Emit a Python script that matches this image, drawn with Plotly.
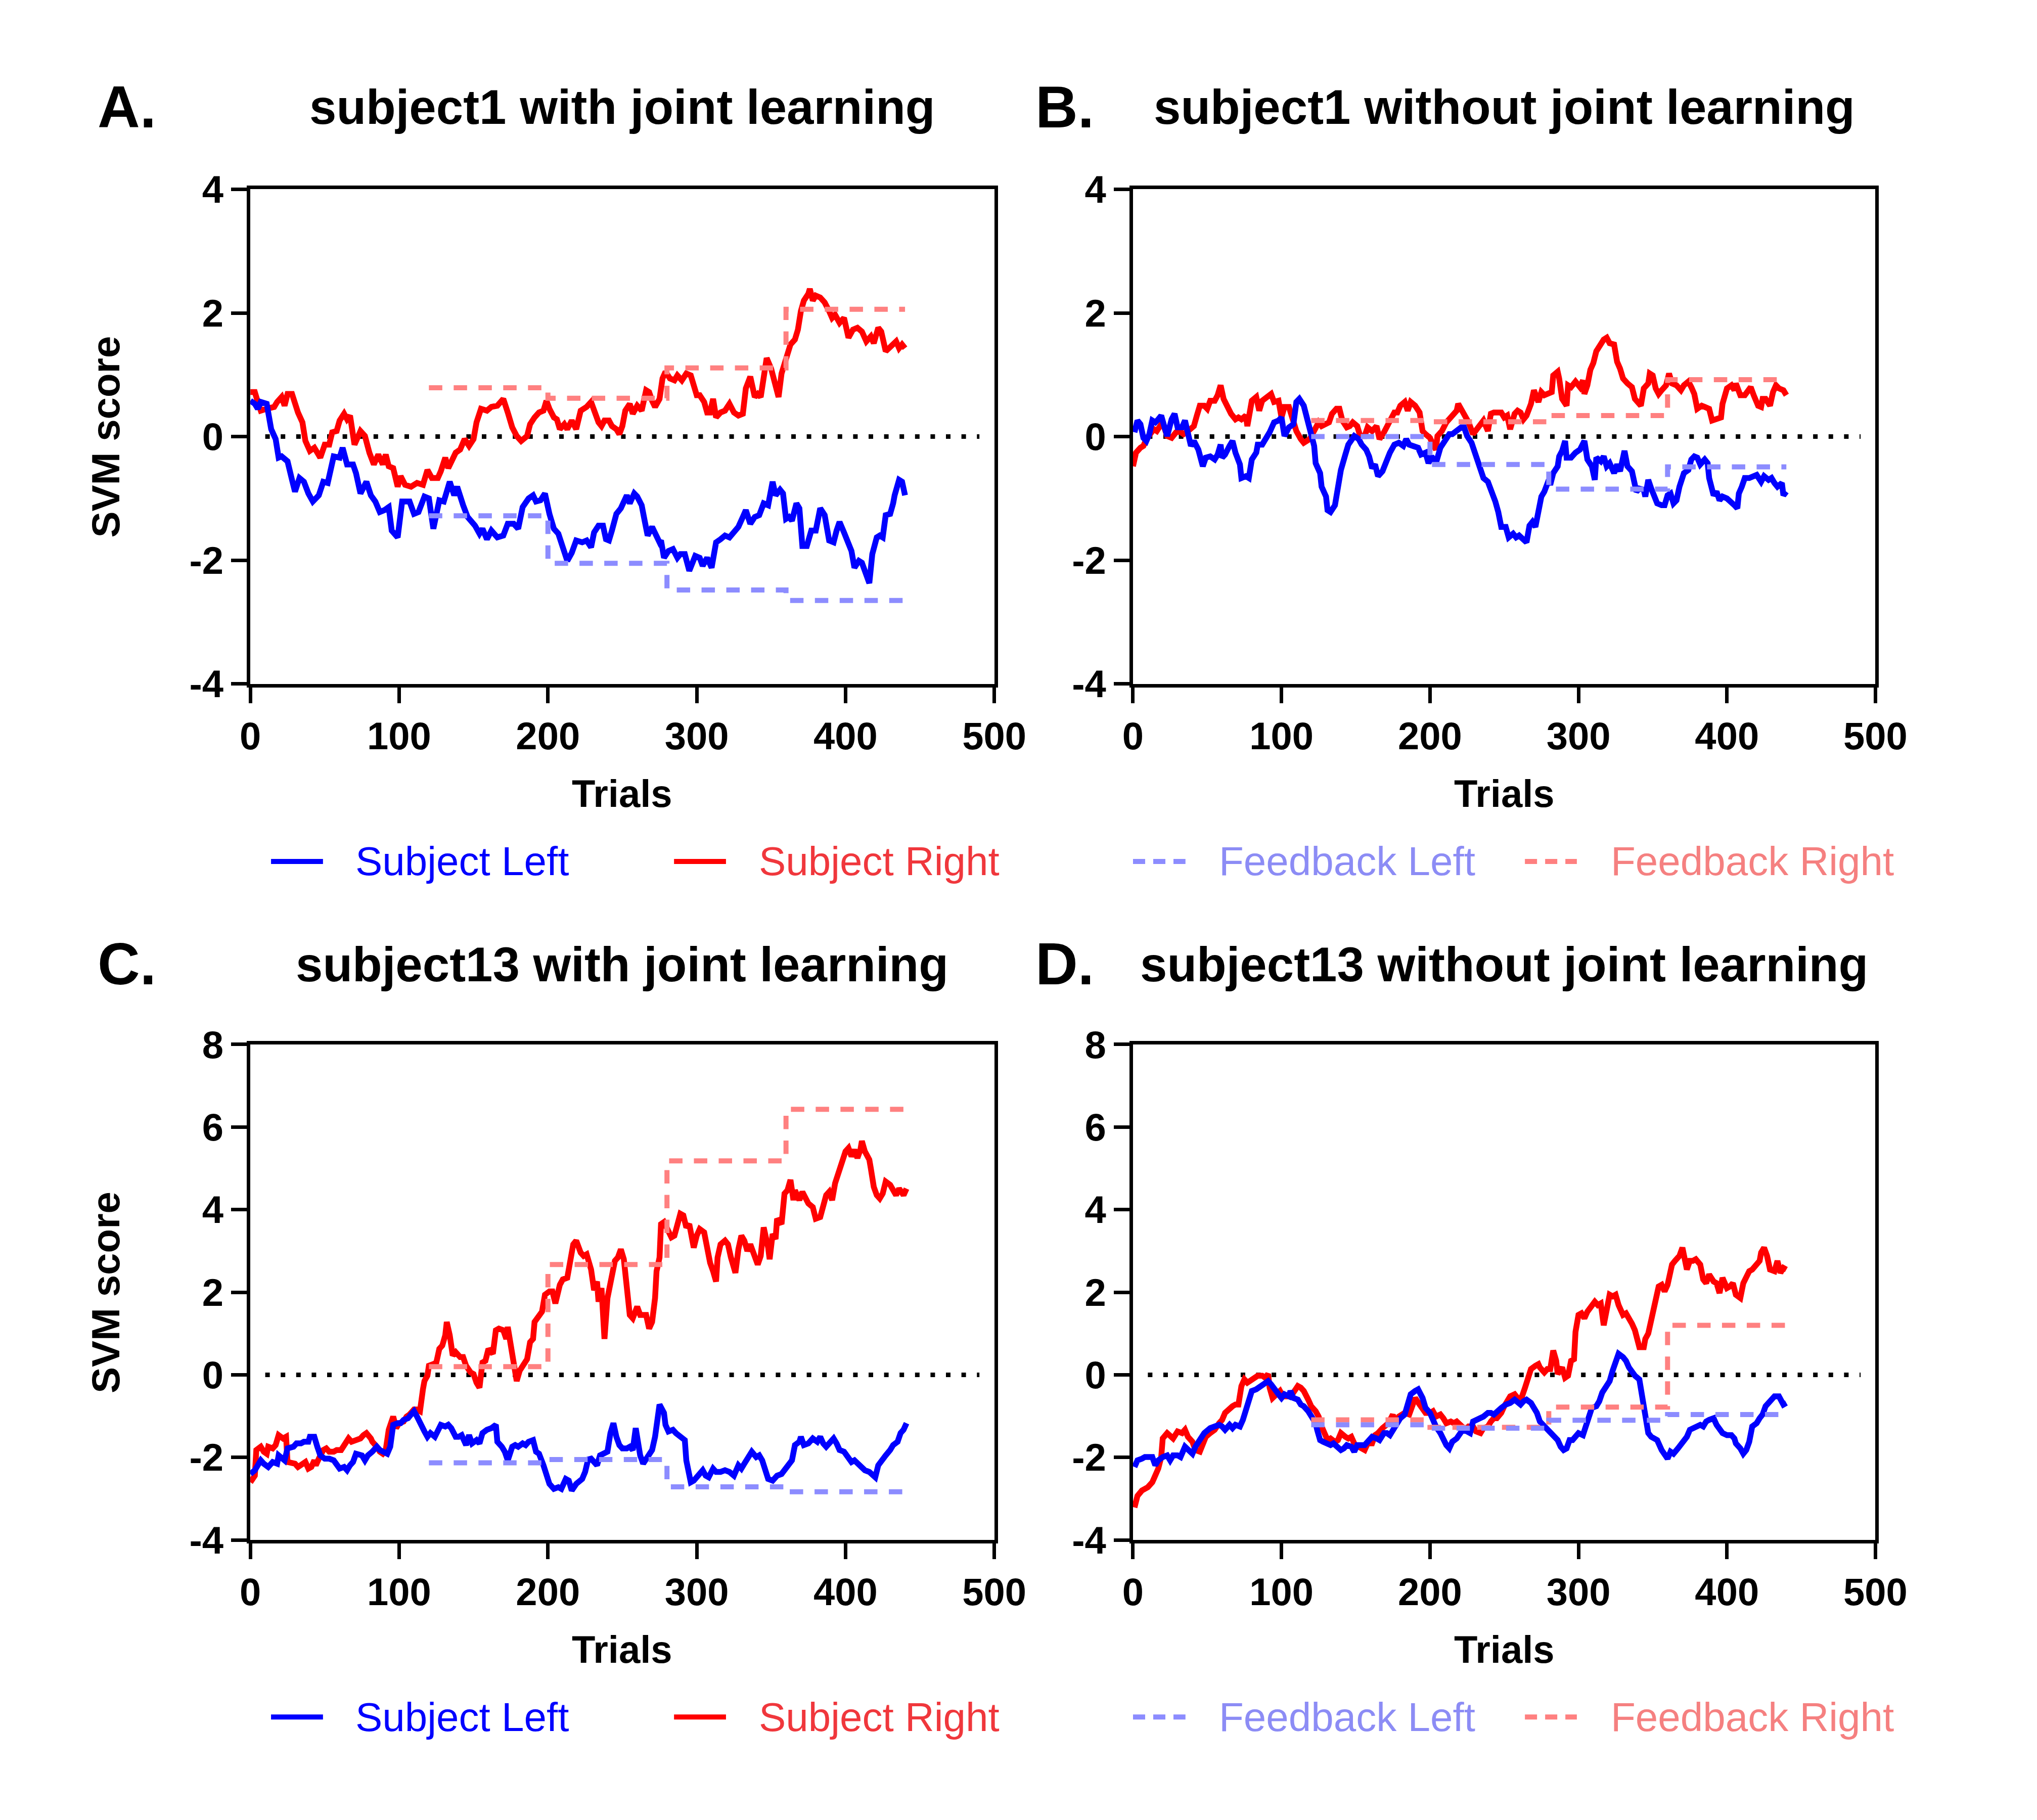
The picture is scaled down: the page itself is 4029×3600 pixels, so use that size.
import plotly.graph_objects as go

W, H = 4029, 3600
FONT = "Liberation Sans, Arial, sans-serif"

# ---------------- data (trial, SVM score) ----------------
A_SUBJ_LEFT = [(0, 0.58), (3, 0.53), (5, 0.45), (7, 0.56), (11, 0.53), (12, 0.39), (14, 0.12), (17, -0.04), (19, -0.34), (21, -0.32), (25, -0.40), (28, -0.70), (30, -0.89), (33, -0.67), (36, -0.73), (39, -0.92), (42, -1.05), (46, -0.95), (49, -0.73), (52, -0.75), (54, -0.51), (56, -0.32), (60, -0.34), (62, -0.18), (65, -0.45), (69, -0.45), (71, -0.59), (74, -0.92), (78, -0.73), (81, -0.95), (84, -1.05), (87, -1.22), (90, -1.19), (93, -1.14), (95, -1.52), (99, -1.63), (102, -1.05), (107, -1.05), (110, -1.25), (113, -1.22), (117, -0.97), (120, -1.00), (123, -1.49), (127, -1.03), (130, -1.05), (134, -0.73), (137, -0.95), (139, -0.81), (143, -1.11), (146, -1.30), (151, -1.44), (154, -1.57), (156, -1.49), (159, -1.66), (162, -1.52), (166, -1.63), (170, -1.60), (173, -1.41), (177, -1.41), (180, -1.49), (183, -1.14), (187, -1.00), (190, -0.95), (192, -1.05), (195, -1.03), (198, -0.92), (201, -1.25), (204, -1.49), (207, -1.57), (210, -1.77), (213, -2.01), (216, -1.88), (219, -1.68), (223, -1.71), (226, -1.68), (229, -1.79), (231, -1.55), (234, -1.44), (237, -1.44), (239, -1.66), (241, -1.68), (243, -1.52), (246, -1.25), (249, -1.16), (251, -1.03), (253, -0.95), (255, -1.08), (258, -0.92), (260, -0.97), (263, -1.11), (265, -1.36), (267, -1.60), (270, -1.46), (272, -1.57), (275, -1.71), (276, -1.68), (278, -1.96), (281, -1.85), (284, -1.82), (287, -1.96), (289, -1.90), (292, -1.90), (295, -2.17), (299, -1.93), (302, -1.96), (304, -2.09), (307, -1.96), (310, -2.12), (313, -1.71), (316, -1.66), (319, -1.60), (322, -1.63), (325, -1.55), (328, -1.46), (331, -1.30), (333, -1.19), (336, -1.41), (339, -1.30), (342, -1.27), (345, -1.08), (348, -1.11), (351, -0.73), (353, -0.95), (356, -0.86), (358, -0.92), (360, -1.33), (362, -1.30), (364, -1.36), (367, -1.08), (369, -1.16), (371, -1.77), (374, -1.77), (377, -1.52), (380, -1.52), (383, -1.16), (386, -1.27), (389, -1.68), (392, -1.71), (394, -1.52), (396, -1.38), (399, -1.55), (402, -1.71), (404, -1.85), (406, -2.12), (409, -2.01), (411, -2.04), (413, -2.17), (416, -2.37), (418, -1.90), (421, -1.63), (423, -1.60), (425, -1.63), (427, -1.27), (430, -1.25), (432, -1.08), (433, -0.95), (436, -0.70), (438, -0.73), (440, -0.95)]
A_SUBJ_RIGHT = [(0, 0.72), (3, 0.72), (5, 0.56), (7, 0.42), (11, 0.45), (14, 0.48), (16, 0.48), (18, 0.56), (21, 0.64), (23, 0.50), (25, 0.69), (28, 0.69), (30, 0.53), (32, 0.39), (35, 0.23), (37, -0.07), (40, -0.23), (43, -0.18), (47, -0.34), (50, -0.13), (53, -0.13), (55, 0.07), (58, 0.09), (60, 0.26), (63, 0.37), (65, 0.28), (67, 0.34), (70, -0.13), (74, 0.09), (77, 0.01), (80, -0.26), (83, -0.45), (86, -0.29), (89, -0.45), (91, -0.29), (93, -0.48), (96, -0.51), (99, -0.81), (101, -0.64), (104, -0.78), (108, -0.81), (112, -0.75), (116, -0.78), (119, -0.54), (122, -0.67), (126, -0.67), (128, -0.56), (131, -0.34), (133, -0.51), (135, -0.40), (138, -0.26), (141, -0.21), (144, -0.04), (147, -0.15), (150, -0.04), (152, 0.23), (155, 0.45), (159, 0.42), (162, 0.48), (166, 0.50), (170, 0.61), (173, 0.39), (176, 0.15), (179, 0.01), (182, -0.07), (186, 0.01), (188, 0.20), (191, 0.31), (194, 0.39), (197, 0.42), (199, 0.58), (201, 0.45), (204, 0.31), (206, 0.28), (208, 0.12), (211, 0.20), (213, 0.12), (216, 0.26), (219, 0.12), (222, 0.42), (226, 0.48), (229, 0.56), (232, 0.37), (234, 0.23), (236, 0.17), (238, 0.26), (241, 0.26), (243, 0.17), (246, 0.12), (248, 0.04), (250, 0.17), (252, 0.42), (255, 0.53), (257, 0.37), (260, 0.50), (263, 0.42), (266, 0.75), (268, 0.72), (270, 0.58), (272, 0.48), (275, 0.61), (277, 0.94), (279, 1.05), (282, 0.94), (285, 0.91), (287, 0.99), (290, 0.91), (293, 1.02), (296, 0.99), (298, 0.83), (300, 0.67), (302, 0.67), (305, 0.56), (307, 0.39), (309, 0.39), (311, 0.61), (313, 0.31), (316, 0.39), (319, 0.42), (322, 0.53), (325, 0.39), (328, 0.34), (331, 0.37), (333, 0.78), (336, 0.97), (339, 0.64), (341, 0.69), (343, 0.64), (345, 0.99), (347, 1.27), (350, 1.10), (352, 0.94), (355, 0.64), (357, 1.02), (360, 1.27), (363, 1.49), (366, 1.57), (368, 1.73), (370, 2.03), (372, 2.20), (375, 2.31), (376, 2.39), (378, 2.20), (380, 2.28), (383, 2.25), (386, 2.17), (389, 2.03), (391, 1.92), (393, 1.97), (396, 1.84), (399, 1.92), (402, 1.60), (405, 1.73), (408, 1.76), (411, 1.70), (414, 1.54), (417, 1.62), (419, 1.51), (422, 1.76), (424, 1.70), (427, 1.38), (430, 1.46), (432, 1.49), (434, 1.54), (436, 1.43), (438, 1.49), (440, 1.43)]

B_SUBJ_LEFT = [(1, 0.07), (3, 0.26), (5, 0.20), (7, -0.02), (9, -0.07), (11, 0.04), (13, 0.26), (15, 0.23), (17, 0.28), (19, 0.34), (21, 0.17), (23, 0.01), (26, 0.28), (28, 0.37), (30, 0.15), (33, 0.15), (35, 0.26), (37, 0.09), (39, -0.15), (41, -0.07), (44, -0.21), (47, -0.48), (49, -0.34), (52, -0.32), (55, -0.37), (57, -0.29), (59, -0.13), (60, -0.34), (62, -0.29), (65, -0.15), (67, -0.07), (69, -0.26), (72, -0.45), (73, -0.67), (76, -0.64), (78, -0.67), (80, -0.37), (83, -0.26), (84, -0.13), (87, -0.13), (90, -0.02), (92, 0.07), (95, 0.23), (98, 0.26), (100, 0.31), (102, 0.01), (105, 0.15), (108, 0.20), (110, 0.56), (112, 0.61), (115, 0.50), (117, 0.31), (119, 0.07), (122, -0.15), (123, -0.43), (126, -0.59), (127, -0.81), (130, -0.97), (131, -1.19), (133, -1.22), (136, -1.11), (138, -0.86), (140, -0.54), (143, -0.29), (145, -0.13), (149, 0.01), (152, -0.04), (154, -0.13), (157, -0.21), (159, -0.32), (161, -0.51), (163, -0.45), (165, -0.64), (168, -0.56), (170, -0.43), (173, -0.26), (176, -0.13), (179, -0.10), (182, -0.15), (184, -0.04), (186, -0.13), (189, -0.15), (192, -0.18), (194, -0.29), (197, -0.26), (199, -0.43), (201, -0.32), (204, -0.43), (207, -0.18), (210, -0.07), (213, 0.04), (215, 0.04), (218, 0.09), (221, 0.15), (223, 0.15), (225, 0.01), (228, -0.10), (230, -0.26), (232, -0.43), (234, -0.59), (236, -0.67), (239, -0.73), (242, -0.89), (244, -1.05), (246, -1.22), (248, -1.46), (251, -1.46), (253, -1.63), (256, -1.57), (258, -1.63), (260, -1.60), (263, -1.66), (265, -1.71), (267, -1.44), (269, -1.38), (271, -1.46), (273, -1.14), (275, -0.97), (277, -0.89), (280, -0.70), (281, -0.78), (283, -0.59), (286, -0.48), (287, -0.32), (289, -0.23), (291, -0.07), (292, -0.34), (295, -0.34), (298, -0.26), (301, -0.21), (304, -0.07), (306, -0.37), (309, -0.48), (311, -0.70), (312, -0.34), (315, -0.40), (317, -0.32), (319, -0.48), (321, -0.43), (324, -0.59), (326, -0.45), (328, -0.56), (331, -0.23), (333, -0.48), (336, -0.56), (338, -0.73), (339, -0.89), (341, -0.84), (344, -0.86), (345, -0.97), (347, -0.70), (349, -0.84), (351, -0.95), (353, -1.08), (356, -1.11), (358, -1.11), (360, -0.95), (362, -0.92), (364, -1.08), (366, -1.03), (368, -0.81), (371, -0.59), (374, -0.54), (376, -0.37), (378, -0.32), (380, -0.34), (382, -0.45), (385, -0.37), (387, -0.43), (388, -0.67), (391, -0.95), (393, -0.89), (395, -1.03), (397, -0.97), (400, -1.00), (403, -1.05), (405, -1.11), (407, -1.16), (408, -0.92), (410, -0.81), (412, -0.67), (415, -0.67), (417, -0.64), (420, -0.62), (423, -0.73), (425, -0.64), (428, -0.70), (430, -0.67), (432, -0.75), (434, -0.81), (437, -0.75), (438, -0.95), (440, -0.89)]
B_SUBJ_RIGHT = [(0, -0.48), (2, -0.26), (5, -0.18), (7, -0.15), (9, -0.04), (12, 0.04), (14, 0.12), (16, 0.09), (19, 0.20), (21, 0.15), (23, 0.01), (26, -0.02), (29, 0.07), (31, 0.09), (34, 0.04), (37, 0.09), (41, 0.17), (43, 0.34), (45, 0.50), (48, 0.50), (50, 0.45), (52, 0.58), (55, 0.58), (57, 0.67), (59, 0.83), (61, 0.61), (63, 0.50), (66, 0.37), (69, 0.28), (71, 0.31), (73, 0.28), (76, 0.34), (77, 0.17), (80, 0.58), (83, 0.64), (85, 0.42), (87, 0.58), (91, 0.67), (93, 0.69), (95, 0.56), (98, 0.58), (100, 0.31), (102, 0.48), (105, 0.48), (108, 0.23), (110, 0.09), (113, -0.04), (115, -0.10), (119, -0.04), (121, 0.04), (123, 0.15), (125, 0.23), (127, 0.17), (130, 0.20), (132, 0.23), (134, 0.37), (137, 0.45), (139, 0.45), (141, 0.26), (144, 0.15), (146, 0.17), (148, 0.23), (151, 0.17), (153, 0.01), (156, 0.01), (158, 0.15), (161, 0.09), (164, 0.17), (166, -0.04), (169, 0.07), (171, 0.17), (173, 0.23), (176, 0.39), (178, 0.39), (180, 0.50), (183, 0.56), (185, 0.42), (187, 0.56), (190, 0.50), (193, 0.39), (195, 0.09), (197, 0.04), (200, -0.02), (202, -0.13), (204, -0.21), (205, 0.01), (208, 0.09), (211, 0.23), (213, 0.28), (215, 0.34), (218, 0.42), (219, 0.53), (222, 0.39), (224, 0.34), (226, 0.23), (229, 0.04), (232, 0.15), (234, 0.20), (236, 0.26), (239, 0.09), (241, 0.37), (243, 0.39), (245, 0.39), (248, 0.39), (250, 0.31), (252, 0.34), (254, 0.12), (257, 0.37), (259, 0.42), (261, 0.39), (263, 0.28), (265, 0.34), (268, 0.53), (270, 0.75), (273, 0.56), (275, 0.72), (277, 0.67), (280, 0.69), (282, 0.72), (283, 0.99), (286, 1.05), (287, 0.94), (289, 0.61), (292, 0.50), (293, 0.83), (295, 0.80), (298, 0.89), (301, 0.80), (303, 0.91), (304, 0.69), (306, 0.83), (308, 1.08), (310, 1.19), (312, 1.38), (315, 1.51), (317, 1.57), (319, 1.60), (321, 1.51), (324, 1.49), (326, 1.21), (328, 1.10), (330, 0.94), (333, 0.86), (336, 0.80), (338, 0.61), (340, 0.56), (342, 0.50), (344, 0.78), (347, 0.86), (348, 1.02), (350, 0.99), (352, 0.78), (354, 0.69), (356, 0.75), (359, 0.83), (361, 1.02), (363, 0.86), (366, 0.83), (369, 0.75), (371, 0.83), (374, 0.89), (376, 0.80), (378, 0.69), (380, 0.45), (383, 0.50), (385, 0.48), (388, 0.45), (390, 0.26), (393, 0.28), (396, 0.31), (397, 0.53), (400, 0.78), (403, 0.83), (405, 0.75), (406, 0.86), (409, 0.67), (412, 0.67), (414, 0.75), (416, 0.80), (418, 0.67), (421, 0.50), (423, 0.48), (424, 0.61), (426, 0.61), (429, 0.50), (431, 0.72), (433, 0.83), (435, 0.78), (438, 0.75), (440, 0.67)]

C_SUBJ_LEFT = [(0, -2.40), (3, -2.31), (5, -2.19), (7, -2.07), (9, -2.15), (12, -2.23), (15, -2.11), (18, -2.15), (19, -1.95), (22, -2.03), (23, -2.07), (25, -1.78), (29, -1.74), (31, -1.66), (34, -1.66), (36, -1.62), (39, -1.62), (40, -1.50), (43, -1.50), (45, -1.74), (47, -1.95), (50, -2.03), (53, -2.03), (56, -2.07), (58, -2.19), (60, -2.27), (63, -2.23), (65, -2.31), (67, -2.19), (69, -2.11), (71, -1.91), (75, -1.95), (77, -2.07), (79, -1.95), (82, -1.86), (85, -1.74), (87, -1.82), (89, -1.86), (92, -1.91), (94, -1.74), (96, -1.21), (99, -1.17), (101, -1.17), (103, -1.09), (106, -1.05), (108, -0.96), (110, -0.88), (112, -1.01), (114, -1.13), (117, -1.37), (119, -1.50), (121, -1.41), (124, -1.50), (126, -1.33), (128, -1.21), (131, -1.25), (133, -1.21), (135, -1.29), (138, -1.50), (140, -1.50), (142, -1.46), (145, -1.70), (147, -1.46), (149, -1.66), (152, -1.58), (154, -1.66), (156, -1.41), (159, -1.33), (162, -1.29), (165, -1.21), (166, -1.62), (169, -1.74), (171, -1.86), (173, -2.07), (176, -1.74), (178, -1.70), (180, -1.74), (183, -1.66), (185, -1.70), (187, -1.62), (190, -1.58), (192, -1.86), (194, -1.91), (197, -2.19), (199, -2.44), (201, -2.64), (204, -2.76), (207, -2.72), (209, -2.76), (212, -2.52), (214, -2.56), (216, -2.80), (219, -2.64), (221, -2.60), (223, -2.52), (225, -2.35), (227, -2.05), (229, -2.03), (231, -2.11), (233, -2.19), (235, -1.95), (237, -1.91), (240, -1.86), (242, -1.41), (244, -1.17), (246, -1.50), (248, -1.70), (250, -1.78), (253, -1.78), (255, -1.74), (257, -1.82), (259, -1.29), (260, -1.54), (262, -1.95), (264, -2.15), (267, -1.99), (270, -1.82), (272, -1.50), (274, -1.01), (275, -0.72), (278, -0.92), (279, -1.21), (281, -1.37), (284, -1.33), (286, -1.41), (289, -1.50), (292, -1.58), (293, -2.07), (295, -2.40), (296, -2.60), (298, -2.56), (301, -2.44), (304, -2.31), (306, -2.44), (308, -2.48), (311, -2.27), (313, -2.35), (316, -2.35), (319, -2.31), (322, -2.35), (325, -2.44), (328, -2.19), (330, -2.27), (332, -2.15), (335, -1.99), (337, -1.86), (340, -1.99), (342, -1.95), (344, -2.07), (346, -2.27), (348, -2.52), (351, -2.56), (354, -2.44), (357, -2.40), (360, -2.27), (362, -2.15), (364, -2.07), (366, -1.70), (369, -1.62), (370, -1.50), (372, -1.70), (375, -1.66), (378, -1.54), (381, -1.62), (383, -1.50), (385, -1.66), (387, -1.74), (389, -1.66), (392, -1.54), (394, -1.66), (396, -1.82), (399, -1.86), (401, -1.95), (404, -2.11), (406, -2.07), (408, -2.15), (410, -2.19), (413, -2.31), (416, -2.35), (418, -2.40), (420, -2.48), (422, -2.19), (424, -2.07), (427, -1.95), (430, -1.82), (432, -1.70), (435, -1.62), (437, -1.41), (439, -1.33), (441, -1.17)]
C_SUBJ_RIGHT = [(0, -2.60), (3, -2.44), (4, -1.82), (7, -1.74), (9, -1.86), (11, -1.91), (12, -1.74), (15, -1.78), (17, -1.70), (19, -1.46), (22, -1.54), (24, -1.50), (25, -2.11), (28, -2.15), (30, -2.15), (32, -2.23), (35, -2.15), (37, -2.11), (39, -2.27), (41, -2.23), (43, -2.07), (44, -2.19), (46, -2.03), (49, -1.82), (51, -1.78), (53, -1.86), (56, -1.86), (58, -1.82), (61, -1.82), (64, -1.66), (66, -1.54), (68, -1.62), (71, -1.58), (74, -1.54), (76, -1.46), (78, -1.41), (81, -1.54), (82, -1.62), (85, -1.74), (87, -1.86), (89, -1.91), (91, -1.82), (93, -1.33), (96, -1.01), (98, -1.29), (100, -1.17), (103, -1.13), (105, -1.01), (107, -0.96), (110, -0.84), (112, -0.84), (114, -0.88), (116, -0.35), (117, -0.15), (119, -0.02), (120, 0.22), (123, 0.26), (125, 0.30), (127, 0.63), (129, 0.71), (131, 0.96), (132, 1.28), (134, 0.96), (136, 0.47), (138, 0.55), (141, 0.43), (143, 0.43), (145, 0.22), (148, 0.06), (150, 0.02), (152, -0.19), (154, -0.31), (156, 0.30), (158, 0.34), (160, 0.63), (163, 0.51), (165, 1.08), (167, 1.12), (170, 1.08), (172, 0.87), (173, 1.16), (175, 0.71), (177, 0.26), (179, -0.15), (181, 0.10), (184, 0.30), (186, 0.38), (188, 0.79), (190, 0.87), (191, 1.28), (194, 1.45), (196, 1.53), (198, 1.94), (201, 2.02), (203, 2.02), (205, 1.73), (208, 2.18), (210, 2.31), (213, 2.35), (215, 2.76), (217, 3.16), (219, 3.25), (222, 2.96), (224, 2.88), (226, 2.92), (229, 2.55), (231, 2.05), (233, 2.26), (234, 1.77), (236, 2.10), (238, 0.87), (240, 1.86), (243, 2.43), (245, 2.76), (247, 2.84), (249, 3.04), (251, 2.80), (253, 2.10), (255, 1.45), (257, 1.37), (260, 1.65), (262, 1.45), (264, 1.45), (266, 1.45), (268, 1.12), (270, 1.28), (272, 1.86), (273, 2.51), (275, 2.84), (276, 3.65), (278, 3.70), (281, 3.49), (283, 3.33), (285, 3.37), (287, 3.61), (289, 3.90), (291, 3.86), (293, 3.57), (295, 3.65), (298, 3.08), (300, 3.37), (302, 3.53), (305, 3.45), (307, 3.00), (309, 2.71), (311, 2.51), (313, 2.26), (314, 2.84), (316, 3.16), (319, 3.25), (321, 3.16), (323, 2.84), (325, 2.63), (326, 2.47), (328, 3.04), (330, 3.37), (332, 3.25), (334, 3.00), (336, 3.16), (339, 2.88), (341, 2.67), (343, 2.88), (345, 3.57), (348, 3.08), (349, 2.80), (351, 3.41), (353, 3.29), (354, 3.78), (357, 3.65), (359, 4.39), (361, 4.47), (363, 4.72), (365, 4.23), (366, 4.47), (369, 4.23), (371, 4.43), (373, 4.27), (375, 4.15), (378, 4.06), (380, 3.78), (383, 3.82), (385, 4.06), (387, 4.35), (389, 4.43), (391, 4.23), (393, 4.64), (395, 4.88), (398, 5.25), (400, 5.41), (402, 5.49), (404, 5.29), (406, 5.45), (408, 5.25), (410, 5.45), (411, 5.66), (413, 5.41), (416, 5.21), (417, 5.00), (419, 4.55), (421, 4.35), (423, 4.27), (425, 4.39), (427, 4.68), (430, 4.60), (432, 4.47), (434, 4.35), (436, 4.51), (439, 4.35), (441, 4.51)]

D_SUBJ_LEFT = [(1, -2.23), (3, -2.07), (6, -2.03), (8, -1.99), (11, -1.99), (13, -1.99), (15, -2.19), (17, -2.07), (20, -1.99), (23, -1.95), (25, -2.07), (27, -1.95), (30, -1.95), (32, -1.99), (35, -1.74), (37, -1.82), (40, -1.91), (42, -1.74), (45, -1.54), (48, -1.41), (52, -1.29), (55, -1.25), (58, -1.21), (60, -1.25), (62, -1.33), (65, -1.21), (67, -1.29), (69, -1.21), (72, -1.25), (74, -1.09), (76, -0.88), (79, -0.60), (80, -0.39), (83, -0.35), (85, -0.31), (87, -0.23), (91, -0.15), (93, -0.23), (95, -0.35), (98, -0.47), (100, -0.56), (102, -0.47), (105, -0.52), (106, -0.39), (108, -0.56), (111, -0.60), (113, -0.72), (115, -0.76), (118, -0.88), (120, -1.01), (123, -1.17), (124, -1.33), (126, -1.58), (128, -1.62), (130, -1.66), (133, -1.70), (135, -1.66), (137, -1.74), (140, -1.82), (142, -1.78), (144, -1.70), (147, -1.74), (149, -1.86), (151, -1.70), (154, -1.70), (156, -1.70), (158, -1.62), (161, -1.50), (164, -1.54), (166, -1.58), (169, -1.41), (171, -1.41), (173, -1.46), (176, -1.29), (178, -1.17), (180, -1.05), (183, -0.96), (185, -0.72), (187, -0.47), (190, -0.39), (192, -0.35), (195, -0.56), (197, -0.80), (200, -0.92), (202, -1.09), (204, -1.25), (207, -1.41), (209, -1.58), (211, -1.70), (213, -1.78), (215, -1.62), (218, -1.54), (220, -1.46), (222, -1.33), (225, -1.37), (227, -1.41), (229, -1.13), (232, -1.09), (234, -1.05), (236, -1.01), (239, -0.92), (241, -0.92), (243, -0.96), (245, -0.88), (248, -0.80), (251, -0.72), (254, -0.68), (257, -0.60), (259, -0.64), (261, -0.72), (263, -0.64), (265, -0.60), (268, -0.68), (270, -0.80), (272, -0.92), (274, -1.13), (277, -1.25), (279, -1.33), (281, -1.37), (283, -1.46), (286, -1.58), (288, -1.74), (290, -1.82), (292, -1.78), (294, -1.58), (296, -1.58), (298, -1.50), (300, -1.41), (303, -1.46), (305, -1.25), (307, -1.01), (309, -0.80), (312, -0.76), (314, -0.64), (316, -0.43), (318, -0.31), (321, -0.15), (323, 0.10), (325, 0.34), (327, 0.51), (330, 0.43), (332, 0.34), (334, 0.18), (336, 0.06), (338, -0.02), (341, -0.11), (342, -0.35), (344, -0.68), (345, -1.01), (347, -1.41), (349, -1.50), (351, -1.54), (353, -1.58), (356, -1.82), (358, -1.95), (360, -2.03), (362, -1.86), (364, -1.91), (367, -1.78), (370, -1.66), (373, -1.50), (375, -1.33), (377, -1.29), (379, -1.29), (382, -1.21), (384, -1.25), (386, -1.13), (388, -1.09), (391, -1.05), (393, -1.21), (395, -1.33), (397, -1.41), (400, -1.46), (403, -1.46), (405, -1.54), (406, -1.66), (409, -1.78), (411, -1.91), (413, -1.82), (415, -1.62), (417, -1.25), (420, -1.17), (422, -1.05), (424, -0.96), (426, -0.76), (428, -0.68), (430, -0.64), (432, -0.52), (435, -0.52), (436, -0.60), (438, -0.72), (440, -0.68)]
D_SUBJ_RIGHT = [(1, -3.21), (3, -2.93), (6, -2.80), (8, -2.76), (10, -2.72), (13, -2.60), (15, -2.44), (17, -2.27), (19, -1.99), (20, -1.54), (23, -1.41), (25, -1.46), (27, -1.54), (30, -1.37), (33, -1.41), (35, -1.33), (37, -1.50), (40, -1.62), (42, -1.82), (45, -1.86), (47, -1.62), (49, -1.50), (52, -1.41), (55, -1.33), (58, -1.17), (60, -1.09), (62, -0.92), (65, -0.80), (67, -0.76), (69, -0.72), (71, -0.72), (73, -0.27), (75, -0.11), (77, -0.19), (80, -0.11), (82, -0.07), (84, -0.02), (87, -0.02), (89, -0.07), (91, 0.02), (92, -0.31), (94, -0.56), (97, -0.43), (99, -0.39), (101, -0.52), (104, -0.52), (106, -0.52), (108, -0.43), (111, -0.27), (113, -0.31), (115, -0.39), (118, -0.60), (120, -0.76), (123, -0.88), (125, -1.01), (127, -1.25), (129, -1.41), (131, -1.58), (133, -1.54), (136, -1.62), (138, -1.58), (140, -1.41), (143, -1.50), (145, -1.54), (147, -1.50), (150, -1.74), (152, -1.74), (154, -1.78), (156, -1.82), (158, -1.66), (161, -1.66), (163, -1.46), (165, -1.41), (168, -1.29), (170, -1.21), (172, -1.17), (175, -0.96), (176, -1.17), (179, -1.01), (181, -0.96), (183, -0.92), (186, -0.96), (188, -0.80), (190, -0.56), (193, -0.72), (195, -0.84), (197, -0.92), (200, -0.92), (202, -0.88), (204, -1.01), (207, -0.96), (209, -1.05), (211, -1.17), (214, -1.13), (216, -1.17), (218, -1.13), (222, -1.29), (224, -1.33), (226, -1.25), (229, -1.25), (231, -1.37), (234, -1.41), (236, -1.29), (239, -1.25), (241, -1.13), (243, -1.05), (245, -1.05), (248, -0.92), (250, -0.76), (252, -0.64), (254, -0.52), (257, -0.47), (259, -0.56), (261, -0.56), (262, -0.52), (264, -0.31), (266, -0.02), (268, 0.14), (271, 0.22), (273, 0.26), (274, 0.18), (277, 0.06), (279, 0.14), (281, 0.14), (283, 0.59), (285, 0.34), (286, 0.02), (289, 0.18), (291, -0.07), (293, -0.02), (295, 0.34), (297, 0.38), (298, 1.04), (300, 1.45), (302, 1.49), (304, 1.37), (306, 1.53), (309, 1.69), (311, 1.77), (313, 1.69), (315, 1.73), (317, 1.20), (319, 1.53), (321, 1.94), (323, 1.90), (325, 1.94), (327, 1.69), (330, 1.45), (332, 1.49), (334, 1.32), (336, 1.24), (338, 1.08), (340, 0.79), (341, 0.67), (344, 0.67), (345, 0.87), (347, 1.00), (349, 1.32), (351, 1.61), (353, 1.90), (354, 2.14), (356, 2.18), (358, 2.02), (360, 2.18), (362, 2.43), (363, 2.67), (365, 2.76), (368, 2.88), (370, 3.08), (371, 2.84), (373, 2.55), (375, 2.76), (377, 2.76), (379, 2.80), (382, 2.67), (384, 2.31), (386, 2.22), (388, 2.43), (391, 2.26), (393, 2.22), (395, 1.98), (397, 2.35), (400, 2.10), (402, 2.14), (404, 2.22), (406, 1.94), (409, 1.86), (411, 2.22), (413, 2.39), (415, 2.51), (417, 2.55), (420, 2.67), (422, 2.76), (423, 2.96), (425, 3.08), (427, 2.88), (429, 2.55), (432, 2.51), (434, 2.76), (436, 2.47), (438, 2.59), (440, 2.55)]

# feedback is a step function, one value per block of 80 trials starting at trial 120
FB_T = [120, 200, 280, 360, 440]
A_FB_LEFT = [-1.28, -2.05, -2.48, -2.65, -2.65]
A_FB_RIGHT = [0.79, 0.62, 1.11, 2.06, 2.06]
B_FB_LEFT = [0.0, -0.45, -0.85, -0.49, -0.49]
B_FB_RIGHT = [0.26, 0.24, 0.34, 0.92, 0.92]
C_FB_LEFT = [-2.13, -2.05, -2.71, -2.83, -2.83]
C_FB_RIGHT = [0.20, 2.67, 5.18, 6.43, 6.43]
D_FB_LEFT = [-1.21, -1.29, -1.10, -0.96, -0.96]
D_FB_RIGHT = [-1.09, -1.27, -0.78, 1.20, 1.20]

ZERO_X = [10, 490]
X_TICKS = [0, 100, 200, 300, 400, 500]
Y_TICKS_SMALL = [-4, -2, 0, 2, 4]
Y_TICKS_BIG = [-4, -2, 0, 2, 4, 6, 8]

BLUE = "#0000FF"
RED = "#FF0000"
FB_BLUE = "#8C8CFF"
FB_RED = "#FF8080"

# the page shot lands the paper slightly inset and shrunk, so target
# positions (in picture pixels) are mapped back onto the paper here
SX, SY = 0.9815, 0.979
OX, OY = 25.7, 43.7
K = 1 / 0.98


def px(x):
    return ((x - OX) / SX) / W


def py(y):
    return 1 - ((y - OY) / SY) / H


# pixel boxes of the four plot areas in the picture (left, right, top, bottom)
cols = [(493, 1968), (2243, 3715)]
rows = [(369, 1350), (2065, 3048)]

panels = [
    dict(letter="A.", title="subject1 with joint learning", col=0, row=0,
         left=A_SUBJ_LEFT, right=A_SUBJ_RIGHT, fbl=A_FB_LEFT, fbr=A_FB_RIGHT, yt=Y_TICKS_SMALL),
    dict(letter="B.", title="subject1 without joint learning", col=1, row=0,
         left=B_SUBJ_LEFT, right=B_SUBJ_RIGHT, fbl=B_FB_LEFT, fbr=B_FB_RIGHT, yt=Y_TICKS_SMALL),
    dict(letter="C.", title="subject13 with joint learning", col=0, row=1,
         left=C_SUBJ_LEFT, right=C_SUBJ_RIGHT, fbl=C_FB_LEFT, fbr=C_FB_RIGHT, yt=Y_TICKS_BIG),
    dict(letter="D.", title="subject13 without joint learning", col=1, row=1,
         left=D_SUBJ_LEFT, right=D_SUBJ_RIGHT, fbl=D_FB_LEFT, fbr=D_FB_RIGHT, yt=Y_TICKS_BIG),
]

fig = go.Figure()
annotations = []
shapes = []
layout = {}

tickfont = dict(family=FONT, size=76, color="black", weight="bold")
lw = 11.5

for i, p in enumerate(panels, start=1):
    xa = "x" if i == 1 else "x%d" % i
    ya = "y" if i == 1 else "y%d" % i
    x0, x1 = cols[p["col"]]
    y0, y1 = rows[p["row"]]

    fig.add_trace(go.Scatter(x=ZERO_X, y=[0, 0], mode="lines", xaxis=xa, yaxis=ya,
                             line=dict(color="black", width=9, dash="9px,21.6px"), showlegend=False))
    rt, rv = zip(*p["right"])
    fig.add_trace(go.Scatter(x=rt, y=rv, mode="lines", xaxis=xa, yaxis=ya,
                             line=dict(color=RED, width=lw), showlegend=False))
    lt, lv = zip(*p["left"])
    fig.add_trace(go.Scatter(x=lt, y=lv, mode="lines", xaxis=xa, yaxis=ya,
                             line=dict(color=BLUE, width=lw), showlegend=False))
    fig.add_trace(go.Scatter(x=FB_T, y=p["fbr"], mode="lines", xaxis=xa, yaxis=ya,
                             line=dict(color=FB_RED, width=10, dash="26.5px,22.5px", shape="hv"), showlegend=False))
    fig.add_trace(go.Scatter(x=FB_T, y=p["fbl"], mode="lines", xaxis=xa, yaxis=ya,
                             line=dict(color=FB_BLUE, width=10, dash="26.5px,22.5px", shape="hv"), showlegend=False))

    axis_common = dict(showline=True, linecolor="black", linewidth=7, mirror=True,
                       ticks="outside", ticklen=31, tickwidth=7, tickcolor="black",
                       showgrid=False, zeroline=False, tickfont=tickfont)
    layout["xaxis" if i == 1 else "xaxis%d" % i] = dict(
        domain=[px(x0), px(x1)], range=[0, 500], anchor=ya,
        tickvals=X_TICKS, ticktext=[str(v) for v in X_TICKS], **axis_common)
    layout["yaxis" if i == 1 else "yaxis%d" % i] = dict(
        domain=[py(y1), py(y0)], range=[p["yt"][0], p["yt"][-1]], anchor=xa,
        tickvals=p["yt"], ticktext=[str(v) for v in p["yt"]], **axis_common)

    cx = (x0 + x1) / 2
    title_y = 206 if p["row"] == 0 else 1906
    annotations.append(dict(text=p["title"], x=px(cx), y=py(title_y), xref="paper", yref="paper",
                            showarrow=False, xanchor="center", yanchor="middle",
                            font=dict(family=FONT, size=96, color="black", weight="bold")))
    letter_x = 248 if p["col"] == 0 else 2108
    annotations.append(dict(text=p["letter"], x=px(letter_x), y=py(title_y), xref="paper", yref="paper",
                            showarrow=False, xanchor="center", yanchor="middle",
                            font=dict(family=FONT, size=116, color="black", weight="bold")))
    trials_y = 1567 if p["row"] == 0 else 3265
    annotations.append(dict(text="Trials", x=px(cx), y=py(trials_y), xref="paper", yref="paper",
                            showarrow=False, xanchor="center", yanchor="middle",
                            font=dict(family=FONT, size=76, color="black", weight="bold")))
    if p["col"] == 0:
        annotations.append(dict(text="SVM score", x=px(206), y=py((y0 + y1) / 2), xref="paper", yref="paper",
                                showarrow=False, xanchor="center", yanchor="middle", textangle=-90,
                                font=dict(family=FONT, size=78, color="black", weight="bold")))

# legend rows drawn by hand under each row of panels
legend_items = [
    # (line x0, line x1, text x, label, line colour, text colour, dash)
    (534, 637, 699, "Subject Left", BLUE, "#0000FF", "solid"),
    (1333, 1436, 1499, "Subject Right", RED, "#F0373C", "solid"),
    (2243, 2347, 2411, "Feedback Left", FB_BLUE, "#8C8CF5", "24px,16px"),
    (3020, 3123, 3188, "Feedback Right", FB_RED, "#F58080", "24px,16px"),
]
for ly in (1702, 3399):
    for lx0, lx1, tx, label, lc, tc, dash in legend_items:
        shapes.append(dict(type="line", xref="paper", yref="paper", x0=px(lx0), x1=px(lx1),
                           y0=py(ly), y1=py(ly), line=dict(color=lc, width=10, dash=dash)))
        annotations.append(dict(text=label, x=px(tx), y=py(ly), xref="paper", yref="paper",
                                showarrow=False, xanchor="left", yanchor="middle",
                                font=dict(family=FONT, size=80, color=tc)))

fig.update_layout(
    width=W, height=H,
    margin=dict(l=0, r=0, t=0, b=0),
    paper_bgcolor="white", plot_bgcolor="white",
    showlegend=False,
    annotations=annotations, shapes=shapes,
    **layout,
)

fig.write_html("out.html")
